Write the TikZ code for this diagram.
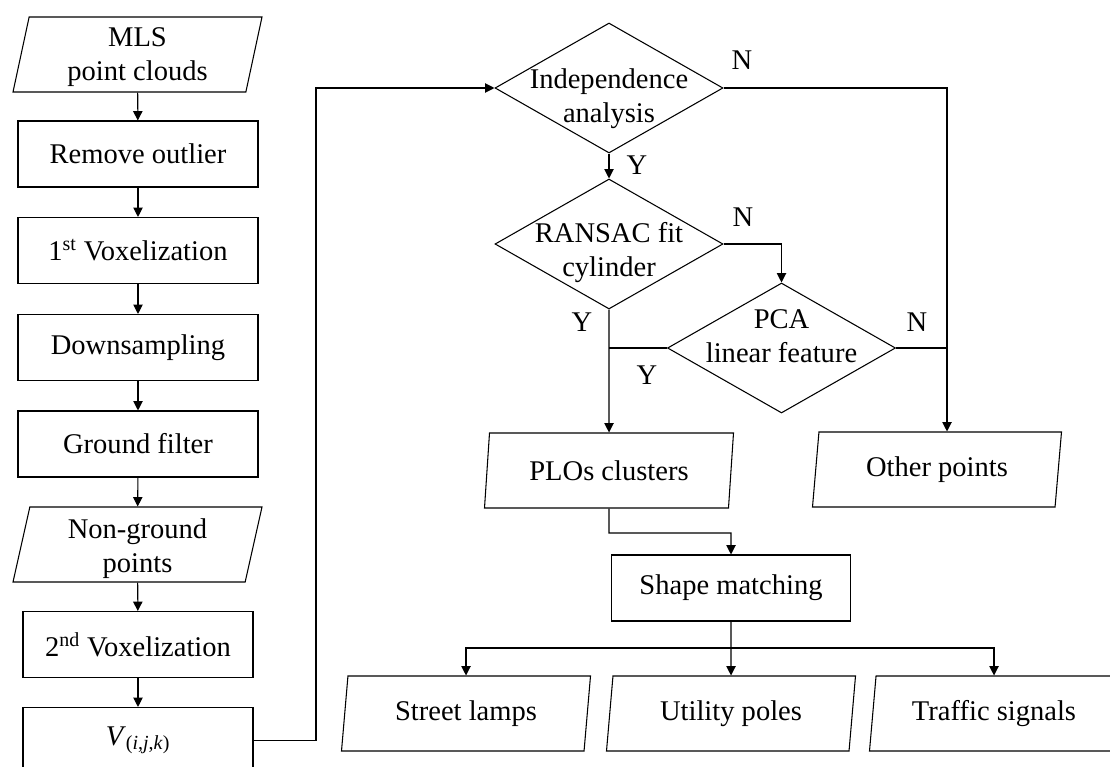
\documentclass[tikz,border=0pt]{standalone}
\usepackage{fontspec}
\setmainfont{Liberation Serif}
\usetikzlibrary{shapes.geometric,arrows.meta}
\begin{document}
\begin{tikzpicture}[x=0.75pt,y=-0.75pt,
  every node/.style={font=\fontsize{21.4pt}{25.5pt}\selectfont, inner sep=0pt},
  proc/.style={draw, rectangle, line width=0.8pt, minimum width=180pt, minimum height=49.5pt},
  io/.style={draw, trapezium, trapezium left angle=76, trapezium right angle=104,
    trapezium stretches body, line width=0.8pt, minimum width=186.75pt,
    minimum height=56.25pt, align=center},
  dec/.style={draw, diamond, line width=0.8pt, minimum width=171pt, minimum height=97.5pt},
  txt/.style={align=center},
  arr/.style={line width=0.8pt, -{Triangle[length=7pt,width=7pt]}},
  con/.style={line width=0.8pt}]
\useasboundingbox (0,0) rectangle (1110,767);

% left column
\node[io] (mls) at (137.5,54.5) {\rule{0pt}{18.5pt}MLS\\point clouds};
\node[proc] (rem) at (138,154) {Remove outlier};
\node[proc] (vox1) at (138,250.5) {1\textsuperscript{st} Voxelization};
\node[proc] (down) at (138,347.5) {Downsampling};
\node[proc] (gf) at (138,444) {Ground filter};
\node[io] (ng) at (137.5,544.5) {\rule{0pt}{20.6pt}Non-ground\\points};
\node[proc, minimum width=172.5pt] (vox2) at (138,644.5) {2\textsuperscript{nd} Voxelization};
\node[proc, minimum width=172.5pt] (v) at (138,740.5)
  {\textit{V}\textsubscript{(\textit{i},\textit{j},\textit{k})}};

% decisions
\node[dec] (ind) at (609,88) {};
\node[txt] (indt) at (609,99) {Independence\\analysis};
\node[dec] (ran) at (609,244) {};
\node[txt] (rant) at (609,253) {RANSAC fit\\cylinder};
\node[dec] (pca) at (781.5,348) {};
\node[txt] (pcat) at (781.5,336) {PCA\\linear feature};

% outputs
\node[io] (plo) at (609,470.5) {PLOs clusters};
\node[io] (oth) at (937,469.5) {Other points};
\node[proc, minimum width=179.25pt] (sm) at (731,588) {Shape matching};
\node[io] (sl) at (466,713.5) {Street lamps};
\node[io] (ut) at (731,713.5) {Utility poles};
\node[io] (tr) at (994,713.5) {Traffic signals};

% Y / N labels
\node (n1) at (742,60) {N};
\node (y1) at (637,165) {Y};
\node (n2) at (743,217) {N};
\node (y2) at (582,322) {Y};
\node (n3) at (917,322) {N};
\node (y3) at (647,375) {Y};

% helper coordinates
\coordinate (cL) at (316,0);
\coordinate (cN) at (947,0);
\coordinate (j1) at (609,533);
\coordinate (j2) at (731,648);

% left column arrows
\draw[arr] (mls) -- (rem);
\draw[arr] (rem) -- (vox1);
\draw[arr] (vox1) -- (down);
\draw[arr] (down) -- (gf);
\draw[arr] (gf) -- (ng);
\draw[arr] (ng) -- (vox2);
\draw[arr] (vox2) -- (v);
\draw[arr] (v.east) -| (cL |- ind.west) -- (ind.west);

% decision flow
\draw[arr] (ind.south) -- (ran.north);
\draw[arr] (ind.east) -- (ind.east -| cN) -- (cN |- oth.north);
\draw[arr] (ran.east) -| (pca.north);
\draw[arr] (ran.south) -- (plo.north);
\draw[con] (pca.west) -- (pca.west -| ran.south);
\draw[con] (pca.east) -- (pca.east -| cN);

% to shape matching and classes
\draw[arr] (plo.south) -- (j1) -| (sm.north);
\draw[arr] (sm.south) -- (ut.north);
\draw[arr] (j2) -| (sl.north);
\draw[arr] (j2) -| (tr.north);
\end{tikzpicture}
\end{document}
